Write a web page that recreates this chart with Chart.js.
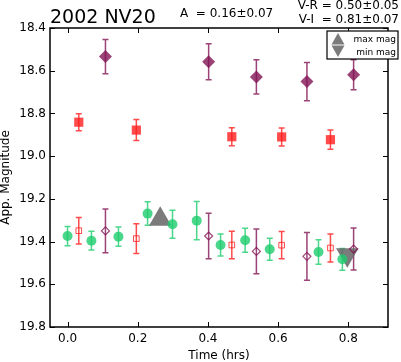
<!DOCTYPE html>
<html>
<head>
<meta charset="utf-8">
<script src="https://cdn.jsdelivr.net/npm/chart.js@4"></script>
<style>
  html, body { margin: 0; padding: 0; background: #fff; }
  #wrap { width: 401px; height: 362px; }
</style>
</head>
<body>
<div id="wrap"><canvas id="lc" width="401" height="362"></canvas></div>
<script>
// V band (green circles)
const vTime = [0.000, 0.068, 0.145, 0.228, 0.299, 0.368, 0.436, 0.506, 0.576, 0.715, 0.783];
const vMag  = [19.374, 19.396, 19.377, 19.269, 19.319, 19.302, 19.416, 19.394, 19.436, 19.449, 19.483];
const vErr  = [0.045, 0.044, 0.045, 0.055, 0.066, 0.090, 0.052, 0.056, 0.051, 0.057, 0.051];

// R band (red squares), raw and shifted
const rTime = [0.032, 0.196, 0.468, 0.610, 0.749];
const rMag  = [18.841, 18.878, 18.909, 18.910, 18.923];
const rErr  = [0.040, 0.049, 0.042, 0.042, 0.045];
const rShift    = [19.349, 19.386, 19.416, 19.417, 19.430];
const rShiftErr = [0.062, 0.070, 0.064, 0.064, 0.066];

// I band (purple diamonds), raw and shifted
const iTime = [0.108, 0.402, 0.538, 0.682, 0.815];
const iMag  = [18.534, 18.558, 18.629, 18.651, 18.619];
const iErr  = [0.080, 0.084, 0.080, 0.090, 0.070];
const iShift    = [19.350, 19.374, 19.446, 19.469, 19.435];
const iShiftErr = [0.102, 0.107, 0.105, 0.112, 0.098];

// extremes
const maxPt = {x: 0.264, y: 19.296};
const minPt = {x: 0.797, y: 19.462};

const xTicks = [0.0, 0.2, 0.4, 0.6, 0.8];
const yTicks = [18.4, 18.6, 18.8, 19.0, 19.2, 19.4, 19.6, 19.8];

const PURPLE = 'rgba(130, 20, 85, 0.8)';
const RED = 'rgba(255, 30, 30, 0.8)';
const GREEN = 'rgba(30, 205, 110, 0.8)';
const GRAY = 'rgba(100, 100, 100, 0.85)';
const FONT = 'DejaVu Sans';

const pts = (t, m) => t.map((x, i) => ({x: x, y: m[i]}));

const errorBars = {
  id: 'errorBars',
  beforeDatasetsDraw(chart) {
    const ctx = chart.ctx;
    const xs = chart.scales.x, ys = chart.scales.y;
    chart.data.datasets.forEach(ds => {
      if (!ds.errs) return;
      ctx.save();
      ctx.strokeStyle = ds.errColor;
      ctx.lineWidth = 1.5;
      ds.data.forEach((p, i) => {
        const px = xs.getPixelForValue(p.x);
        const y1 = ys.getPixelForValue(p.y - ds.errs[i]);
        const y2 = ys.getPixelForValue(p.y + ds.errs[i]);
        ctx.beginPath();
        ctx.moveTo(px, y1); ctx.lineTo(px, y2);
        ctx.moveTo(px - 3, y1); ctx.lineTo(px + 3, y1);
        ctx.moveTo(px - 3, y2); ctx.lineTo(px + 3, y2);
        ctx.stroke();
      });
      ctx.restore();
    });
  }
};

const frame = {
  id: 'frame',
  afterDraw(chart) {
    const ctx = chart.ctx;
    const a = chart.chartArea;
    const xs = chart.scales.x, ys = chart.scales.y;
    ctx.save();
    ctx.strokeStyle = '#000';
    ctx.lineWidth = 1;
    ctx.beginPath();
    xTicks.forEach(v => {
      const px = Math.round(xs.getPixelForValue(v)) + 0.5;
      ctx.moveTo(px, a.bottom); ctx.lineTo(px, a.bottom - 5);
      ctx.moveTo(px, a.top); ctx.lineTo(px, a.top + 5);
    });
    yTicks.forEach(v => {
      const py = Math.round(ys.getPixelForValue(v)) + 0.5;
      ctx.moveTo(a.left, py); ctx.lineTo(a.left + 5, py);
      ctx.moveTo(a.right, py); ctx.lineTo(a.right - 5, py);
    });
    ctx.stroke();
    ctx.lineWidth = 1.5;
    ctx.strokeRect(a.left, a.top, a.right - a.left, a.bottom - a.top);

    // texts above plot
    ctx.fillStyle = '#000';
    ctx.textBaseline = 'alphabetic';
    ctx.textAlign = 'left';
    ctx.font = '19px ' + FONT;
    ctx.fillText('2002 NV20', 50, 23);
    ctx.font = '12px ' + FONT;
    ctx.fillText('A  = 0.16\u00b10.07', 180, 17);
    ctx.textAlign = 'right';
    ctx.fillText('V-R = 0.50\u00b10.05', 399, 9);
    ctx.fillText('V-I  = 0.81\u00b10.07', 399, 23);

    // legend box
    const lx = 327, ly = 31, lw = 71, lh = 28;
    ctx.fillStyle = '#fff';
    ctx.fillRect(lx, ly, lw, lh);
    ctx.lineWidth = 1.2;
    ctx.strokeRect(lx, ly, lw, lh);
    ctx.fillStyle = GRAY;
    ctx.beginPath();
    ctx.moveTo(338, 33); ctx.lineTo(344.5, 44.5); ctx.lineTo(331.5, 44.5); ctx.closePath();
    ctx.fill();
    ctx.beginPath();
    ctx.moveTo(331.5, 45.5); ctx.lineTo(344.5, 45.5); ctx.lineTo(338, 57); ctx.closePath();
    ctx.fill();
    ctx.fillStyle = '#000';
    ctx.font = '9px ' + FONT;
    ctx.textAlign = 'right';
    ctx.fillText('max mag', 396, 42);
    ctx.fillText('min mag', 396, 55);
    ctx.restore();
  }
};

new Chart(document.getElementById('lc').getContext('2d'), {
  type: 'scatter',
  data: {
    datasets: [
      {data: pts(iTime, iShift), errs: iShiftErr, errColor: PURPLE, pointStyle: 'rectRot', pointRadius: 4,
        backgroundColor: 'rgba(255,255,255,0)', borderColor: PURPLE, borderWidth: 1.2},
      {data: pts(rTime, rShift), errs: rShiftErr, errColor: RED, pointStyle: 'rect', pointRadius: 4,
        backgroundColor: 'rgba(255,255,255,0)', borderColor: RED, borderWidth: 1},
      {data: pts(vTime, vMag), errs: vErr, errColor: GREEN, pointStyle: 'circle', pointRadius: 5,
        backgroundColor: GREEN, borderWidth: 0},
      {data: pts(rTime, rMag), errs: rErr, errColor: RED, pointStyle: 'rect', pointRadius: 6.5,
        backgroundColor: RED, borderWidth: 0},
      {data: pts(iTime, iMag), errs: iErr, errColor: PURPLE, pointStyle: 'rectRot', pointRadius: 6.5,
        backgroundColor: PURPLE, borderWidth: 0},
      {data: [minPt], pointStyle: 'triangle', rotation: 180, pointRadius: 13, backgroundColor: GRAY, borderWidth: 0},
      {data: [maxPt], pointStyle: 'triangle', pointRadius: 13, backgroundColor: GRAY, borderWidth: 0}
    ]
  },
  options: {
    responsive: false,
    animation: false,
    layout: {padding: {top: 28, right: 2, left: 0, bottom: 0}},
    plugins: {legend: {display: false}, tooltip: {enabled: false}},
    scales: {
      x: {
        type: 'linear',
        min: -0.05,
        max: 0.913,
        grid: {display: false, drawTicks: false},
        border: {display: false},
        afterBuildTicks: s => { s.ticks = xTicks.map(v => ({value: v})); },
        afterFit: s => { s.height = 35; },
        ticks: {padding: 5, color: '#000', font: {family: FONT, size: 12}, callback: v => v.toFixed(1)},
        title: {display: true, text: 'Time (hrs)', color: '#000', font: {family: FONT, size: 12, lineHeight: 1},
          padding: {top: 0, bottom: 0}}
      },
      y: {
        type: 'linear',
        reverse: true,
        min: 18.4,
        max: 19.8,
        grid: {display: false, drawTicks: false},
        border: {display: false},
        afterBuildTicks: s => { s.ticks = yTicks.map(v => ({value: v})); },
        afterFit: s => { s.width = 50; },
        ticks: {padding: 4, color: '#000', font: {family: FONT, size: 12}, callback: v => v.toFixed(1)},
        title: {display: true, text: 'App. Magnitude', color: '#000', font: {family: FONT, size: 12, lineHeight: 1},
          padding: {top: 0, bottom: 0}}
      }
    }
  },
  plugins: [errorBars, frame]
});
</script>
</body>
</html>
